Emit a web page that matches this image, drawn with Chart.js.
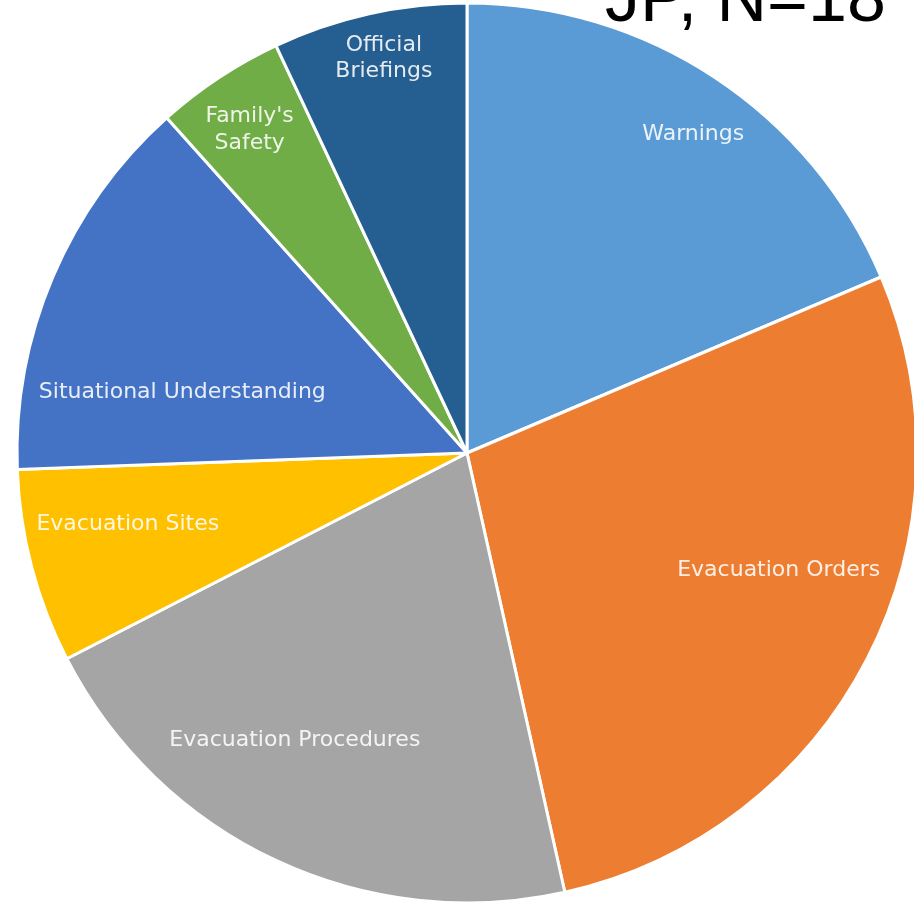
<!DOCTYPE html>
<html>
<head>
<meta charset="utf-8">
<title>JP, N=18</title>
<script src="https://cdn.jsdelivr.net/npm/chart.js@4.4.1/dist/chart.umd.min.js"></script>
<style>
    html, body { margin: 0; padding: 0; background: #fff; overflow: hidden; }
    #pieChart { display: block; }
</style>
</head>
<body>
<canvas id="pieChart" width="934" height="906"></canvas>
<script>
// Topics mentioned by respondents (counts)
const categories = [
    'Warnings',
    'Evacuation Orders',
    'Evacuation Procedures',
    'Evacuation Sites',
    'Situational Understanding',
    "Family's Safety",
    'Official Briefings'
];
const mentions = [8, 12, 9, 3, 6, 2, 3];
const sliceColors = ['#5B9BD5', '#ED7D31', '#A5A5A5', '#FFC000', '#4472C4', '#70AD47', '#255E91'];
const titleText = 'JP, N=18';

// Label text lines and where they sit: [degrees clockwise from top, fraction of radius]
const labelLines = [
    ['Warnings'],
    ['Evacuation Orders'],
    ['Evacuation Procedures'],
    ['Evacuation Sites'],
    ['Situational Understanding'],
    ["Family's", 'Safety'],
    ['Official', 'Briefings']
];
const labelAnchors = [
    [35.4, 0.868],
    [110.6, 0.74],
    [210.9, 0.745],
    [258.2, 0.77],
    [282.1, 0.647],
    [326.1, 0.866],
    [348.1, 0.896]
];

// Draws the text inside each slice
const sliceLabels = {
    id: 'sliceLabels',
    afterDatasetsDraw(chart) {
        const ctx = chart.ctx;
        const arcs = chart.getDatasetMeta(0).data;
        ctx.save();
        ctx.font = '22px "DejaVu Sans", Verdana, sans-serif';
        ctx.fillStyle = 'rgba(255, 255, 255, 0.88)';
        ctx.textAlign = 'center';
        ctx.textBaseline = 'middle';
        arcs.forEach((arc, i) => {
            const [deg, frac] = labelAnchors[i];
            const a = (deg - 90) * Math.PI / 180;
            const r = arc.outerRadius * frac;
            const cx = arc.x + Math.cos(a) * r;
            const cy = arc.y + Math.sin(a) * r;
            const lines = labelLines[i];
            const lh = 26.5;
            lines.forEach((line, j) => {
                ctx.fillText(line, cx, cy + (j - (lines.length - 1) / 2) * lh);
            });
        });
        ctx.restore();
    }
};

// Big title in the top right corner
const cornerTitle = {
    id: 'cornerTitle',
    afterDraw(chart) {
        const ctx = chart.ctx;
        ctx.save();
        ctx.font = '70px "Liberation Sans", Arial, sans-serif';
        ctx.fillStyle = '#000';
        ctx.textAlign = 'left';
        ctx.textBaseline = 'alphabetic';
        ctx.fillText(titleText, 605, 21);
        ctx.restore();
    }
};

const ctx = document.getElementById('pieChart').getContext('2d');
const pieChart = new Chart(ctx, {
    type: 'pie',
    data: {
        labels: categories,
        datasets: [{
            data: mentions,
            backgroundColor: sliceColors,
            borderColor: '#ffffff',
            borderWidth: 3,
            radius: 450
        }]
    },
    options: {
        responsive: false,
        animation: false,
        layout: { padding: 0 },
        plugins: {
            legend: { display: false },
            tooltip: { enabled: false },
            title: { display: false }
        }
    },
    plugins: [sliceLabels, cornerTitle]
});
</script>
</body>
</html>
